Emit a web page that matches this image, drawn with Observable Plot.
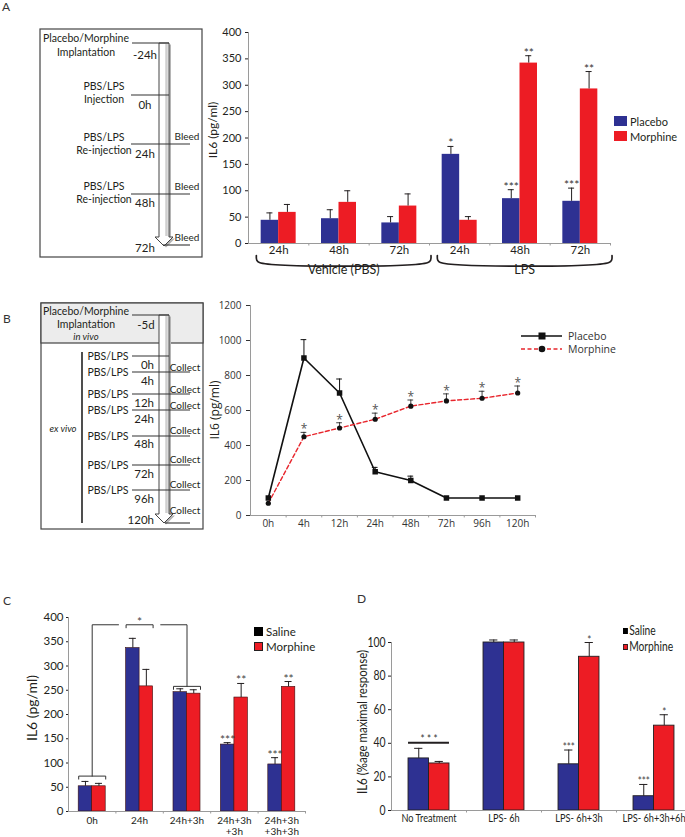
<!DOCTYPE html>
<html>
<head>
<meta charset="utf-8">
<script src="https://cdn.jsdelivr.net/npm/d3@7"></script>
<script src="https://cdn.jsdelivr.net/npm/@observablehq/plot@0.6"></script>
<style>
  html, body { margin: 0; padding: 0; background: #fff; overflow: hidden; }
  #fig { position: relative; width: 685px; height: 837px; overflow: hidden; background: #fff; color: #231f20; font-family: Lato, sans-serif; }
  .letter { position: absolute; font-size: 12px; line-height: 1; color: #333; }
  .ylab { position: absolute; white-space: nowrap; line-height: 1; transform: translate(-50%, -50%) rotate(-90deg); }
  .legend-row { position: absolute; white-space: nowrap; line-height: 1; display: flex; align-items: center; transform-origin: left center; }
</style>
</head>
<body>
<div id="fig"></div>
<script>
// ================= DATA =================
// Panel A
const aGroups = ["24h", "48h", "72h", "24h", "48h", "72h"];
const aTreatments = ["Vehicle (PBS)", "LPS"];
const aTreatmentSpans = [[0, 3], [3, 6]];
const aSeries = ["Placebo", "Morphine"];
const aPlacebo = [44, 47, 39, 169, 85, 80];
const aPlaceboSem = [14, 17, 12, 15, 17, 25];
const aMorphine = [59, 78, 71, 44, 342, 293];
const aMorphineSem = [15, 22, 23, 7, 14, 33];
const aPlaceboStars = ["", "", "", "*", "***", "***"];
const aMorphineStars = ["", "", "", "", "**", "**"];
const aYTicks = [0, 50, 100, 150, 200, 250, 300, 350, 400];
const aDiagTimes = ["-24h", "0h", "24h", "48h", "72h"];
const aDiagEvents = [["Placebo/Morphine", "Implantation"], ["PBS/LPS", "Injection"], ["PBS/LPS", "Re-injection"], ["PBS/LPS", "Re-injection"], []];
const aDiagBleed = ["", "", "Bleed", "Bleed", "Bleed"];

// Panel B
const bTimes = ["0h", "4h", "12h", "24h", "48h", "72h", "96h", "120h"];
const bSeries = ["Placebo", "Morphine"];
const bPlacebo = [100, 900, 700, 250, 200, 100, 100, 100];
const bPlaceboSem = [0, 105, 80, 25, 25, 0, 0, 0];
const bMorphine = [70, 450, 500, 550, 625, 655, 670, 700];
const bMorphineSem = [0, 25, 30, 35, 35, 40, 40, 40];
const bMorphineStars = ["", "*", "*", "*", "*", "*", "*", "*"];
const bYTicks = [0, 200, 400, 600, 800, 1000, 1200];
const bDiagTreat = ["PBS/LPS", "PBS/LPS", "PBS/LPS", "PBS/LPS", "PBS/LPS", "PBS/LPS", "PBS/LPS", ""];
const bDiagCollect = ["", "Collect", "Collect", "Collect", "Collect", "Collect", "Collect", "Collect"];

// Panel C
const cGroups = ["0h", "24h", "24h+3h", "24h+3h\n+3h", "24h+3h\n+3h+3h"];
const cSeries = ["Saline", "Morphine"];
const cSaline = [52, 337, 246, 138, 97];
const cSalineSem = [10, 20, 7, 4, 14];
const cMorphine = [52, 258, 243, 235, 257];
const cMorphineSem = [6, 35, 8, 29, 11];
const cSalineStars = ["", "", "", "***", "***"];
const cMorphineStars = ["", "", "", "**", "**"];
const cYTicks = [0, 50, 100, 150, 200, 250, 300, 350, 400];
const cBracketGroups = [0, 1, 2];        // compared groups: 0h vs 24h+3h, via 24h
const cBracketLevels = [73, 385, 258];   // bracket heights (pg/ml)
const cBracketLabel = "*";

// Panel D
const dGroups = ["No Treatment", "LPS- 6h", "LPS- 6h+3h", "LPS- 6h+3h+6h"];
const dSeries = ["Saline", "Morphine"];
const dSaline = [31, 100, 27.5, 8.5];
const dSalineSem = [6, 1.5, 8.5, 7];
const dMorphine = [28, 100, 91.5, 50.5];
const dMorphineSem = [1.2, 1.5, 8.5, 6.5];
const dSalineStars = ["", "", "***", "***"];
const dMorphineStars = ["", "", "*", "*"];
const dYTicks = [0, 20, 40, 60, 80, 100];
const dBracketLevel = 40.4;
const dBracketLabel = "* * *";

// ================= STYLE =================
const BLUE = "#2e3192", RED = "#ed1c24", INK = "#231f20", AXIS = "#9a9a9a";
const LATO = "Lato, sans-serif";
const OPEN = "'Open Sans', sans-serif";

const fig = document.getElementById("fig");
function place(el, left, top) {
  el.style.position = "absolute";
  el.style.left = left + "px";
  el.style.top = top + "px";
  fig.append(el);
  return el;
}
function letter(t, left, top) {
  const d = document.createElement("div");
  d.className = "letter"; d.textContent = t;
  place(d, left, top);
}
function yLabel(t, cx, cy, size, family, extra) {
  const d = document.createElement("div");
  d.className = "ylab"; d.textContent = t;
  d.style.fontSize = size + "px"; d.style.fontFamily = family;
  if (extra) d.style.transform = "translate(-50%, -50%) rotate(-90deg) " + extra;
  place(d, cx, cy);
}
function legend(items, o) {
  items.forEach((it, k) => {
    const row = document.createElement("div");
    row.className = "legend-row";
    row.style.height = o.sh + "px";
    row.style.fontSize = o.size + "px";
    row.style.fontFamily = o.family;
    if (o.squeeze) row.style.transform = `scaleX(${o.squeeze})`;
    const sw = document.createElement("span");
    sw.style.cssText = `display:inline-block;width:${o.sw}px;height:${o.sh}px;background:${it.color};box-sizing:border-box;margin-right:${o.gap}px;` + (it.border ? `border:1px solid ${INK};` : "");
    row.append(sw, document.createTextNode(it.label));
    place(row, o.left, o.top + k * o.step);
  });
}
function makeBars(groups, series, values, sems, stars, barW) {
  const out = [];
  groups.forEach((g, i) => {
    series.forEach((s, j) => {
      const x1 = i + 0.5 - barW * series.length / 2 + j * barW;
      out.push({group: g, gi: i, series: s, x1, x2: x1 + barW, xc: x1 + barW / 2,
        value: values[j][i], sem: sems[j][i], top: values[j][i] + sems[j][i], star: stars[j][i]});
    });
  });
  return out;
}
function errorMarks(bars, cap, stroke, width) {
  const e = bars.filter(d => d.sem > 0);
  return [
    Plot.ruleX(e, {x: "xc", y1: "value", y2: "top", stroke, strokeWidth: width}),
    Plot.ruleY(e, {x1: d => d.xc - cap, x2: d => d.xc + cap, y: "top", stroke, strokeWidth: width})
  ];
}
function positionSvg(svg, left, top) {
  svg.style.position = "absolute";
  svg.style.left = left + "px";
  svg.style.top = top + "px";
  svg.style.maxWidth = "none";
  svg.style.overflow = "visible";
  fig.append(svg);
}
// horizontally condense every text of an svg (the reference uses a condensed face)
function condense(svg, factor) {
  svg.querySelectorAll("text").forEach(t => {
    const spans = t.querySelectorAll("tspan");
    (spans.length ? [...spans] : [t]).forEach(el => {
      const len = el.getComputedTextLength();
      if (len > 0) {
        el.setAttribute("textLength", (len * factor).toFixed(2));
        el.setAttribute("lengthAdjust", "spacingAndGlyphs");
      }
    });
  });
}

// ================= PANEL A: chart =================
{
  const BAR = 0.29, CAP = 0.05, U = 400 / 211; // data units per pixel
  const bars = makeBars(aGroups, aSeries, [aPlacebo, aMorphine], [aPlaceboSem, aMorphineSem], [aPlaceboStars, aMorphineStars], BAR);
  const braces = aTreatmentSpans.flatMap(([s, e], k) => {
    const x0 = s + 0.13, x1 = e + 0.025, t = -12 * U, b = -19 * U;
    return [[x0, t], [x0 + 0.006, b + 2.5 * U], [x0 + 0.05, b], [x1 - 0.05, b], [x1 - 0.006, b + 2.5 * U], [x1, t]]
      .map(([x, y]) => ({k, x, y}));
  });
  const svg = Plot.plot({
    width: 415, height: 270, marginLeft: 48, marginRight: 5, marginTop: 12, marginBottom: 47,
    style: {fontFamily: LATO, fontSize: "11px", color: INK, background: "transparent"},
    x: {domain: [0, aGroups.length], axis: null},
    y: {domain: [0, 400], ticks: aYTicks, tickSize: 3, tickPadding: 4, label: null},
    color: {domain: aSeries, range: [BLUE, RED]},
    marks: [
      Plot.rectY(bars, {x1: "x1", x2: "x2", y1: 0, y2: "value", fill: "series"}),
      ...errorMarks(bars, CAP, INK, 1),
      Plot.text(bars.filter(d => d.star), {x: "xc", y: "top", text: "star", lineAnchor: "bottom", dy: 1, fontSize: 12, fill: "#333"}),
      Plot.ruleY([0], {stroke: AXIS}),
      Plot.ruleX([0], {stroke: AXIS}),
      Plot.ruleX(d3.range(1, aGroups.length + 1), {x: d => d, y1: 0, y2: -2.5 * U, stroke: AXIS}),
      Plot.text(aGroups, {x: (d, i) => i + 0.5, frameAnchor: "bottom", dy: 10.5, text: d => d, fontSize: 11.5}),
      Plot.line(braces, {x: "x", y: "y", z: "k", curve: "catmull-rom", stroke: INK, strokeWidth: 1.7}),
      Plot.text(aTreatments, {x: (d, i) => (aTreatmentSpans[i][0] + 0.13 + aTreatmentSpans[i][1] + 0.025) / 2, frameAnchor: "bottom", dy: 30, text: d => d, fontSize: 12.5})
    ]
  });
  positionSvg(svg, 200, 20);
  yLabel("IL6 (pg/ml)", 213, 130, 12, LATO);
  legend(aSeries.map((s, i) => ({label: s, color: [BLUE, RED][i]})), {left: 614, top: 116, step: 15, sw: 13, sh: 10, gap: 3, size: 11, family: LATO});
}

// ================= PANEL B: chart =================
{
  const CAP = 0.08, U = 1200 / 215;
  const rows = bTimes.map((t, i) => ({time: t, xi: i + 0.5,
    placebo: bPlacebo[i], pTop: bPlacebo[i] + bPlaceboSem[i], pSem: bPlaceboSem[i],
    morphine: bMorphine[i], mTop: bMorphine[i] + bMorphineSem[i], mSem: bMorphineSem[i], star: bMorphineStars[i]}));
  const pe = rows.filter(d => d.pSem > 0), me = rows.filter(d => d.mSem > 0);
  const svg = Plot.plot({
    width: 340, height: 250, marginLeft: 50, marginRight: 5, marginTop: 10, marginBottom: 30,
    style: {fontFamily: OPEN, fontSize: "10px", color: "#333", background: "transparent"},
    x: {domain: [0, bTimes.length], axis: null},
    y: {domain: [0, 1200], ticks: bYTicks, tickFormat: d => String(d), tickSize: 4, tickPadding: 5, label: null},
    marks: [
      Plot.ruleY([0], {stroke: AXIS}),
      Plot.ruleX([0], {stroke: AXIS}),
      Plot.ruleX(d3.range(1, bTimes.length + 1), {x: d => d, y1: 0, y2: -2.5 * U, stroke: AXIS}),
      Plot.ruleX(pe, {x: "xi", y1: "placebo", y2: "pTop", stroke: "#111", strokeWidth: 1}),
      Plot.ruleY(pe, {x1: d => d.xi - CAP, x2: d => d.xi + CAP, y: "pTop", stroke: "#111", strokeWidth: 1}),
      Plot.ruleX(me, {x: "xi", y1: "morphine", y2: "mTop", stroke: "#111", strokeWidth: 0.8}),
      Plot.ruleY(me, {x1: d => d.xi - CAP, x2: d => d.xi + CAP, y: "mTop", stroke: "#111", strokeWidth: 0.8}),
      Plot.line(rows, {x: "xi", y: "placebo", stroke: "#111", strokeWidth: 1.6}),
      Plot.line(rows, {x: "xi", y: "morphine", stroke: "#e8262d", strokeWidth: 1.4, strokeDasharray: "4,2.5"}),
      Plot.dot(rows, {x: "xi", y: "placebo", symbol: "square", r: 3.1, fill: "#111"}),
      Plot.dot(rows, {x: "xi", y: "morphine", r: 2.6, fill: "#111"}),
      Plot.text(rows.filter(d => d.star), {x: "xi", y: "mTop", text: "star", lineAnchor: "bottom", dy: 1, fontSize: 12, fill: "#555"}),
      Plot.text(bTimes, {x: (d, i) => i + 0.5, frameAnchor: "bottom", dy: 11.5, text: d => d, fontSize: 10})
    ]
  });
  positionSvg(svg, 200, 295);
  yLabel("IL6 (pg/ml)", 215, 410, 12, OPEN);
  const lg = d3.create("svg").attr("width", 50).attr("height", 30);
  const ys = [8, 21];
  bSeries.forEach((s, i) => {
    lg.append("line").attr("x1", 6).attr("x2", 47).attr("y1", ys[i]).attr("y2", ys[i])
      .attr("stroke", i ? "#e8262d" : "#111").attr("stroke-width", i ? 1.4 : 1.6).attr("stroke-dasharray", i ? "4,2.5" : null);
    if (i) lg.append("circle").attr("cx", 27).attr("cy", ys[i]).attr("r", 3.3).attr("fill", "#111");
    else lg.append("rect").attr("x", 23.5).attr("y", ys[i] - 3.5).attr("width", 7).attr("height", 7).attr("fill", "#111");
    const t = document.createElement("div");
    t.className = "legend-row"; t.style.height = "12px"; t.style.fontSize = "10.5px"; t.style.fontFamily = OPEN; t.style.color = "#333";
    t.textContent = s;
    place(t, 568, 328 + ys[i] - 6);
  });
  place(lg.node(), 515, 328);
}

// ================= PANEL C: chart =================
{
  const BAR = 0.285, CAP = 0.074, U = 400 / 193.5;
  const bars = makeBars(cGroups, cSeries, [cSaline, cMorphine], [cSalineSem, cMorphineSem], [cSalineStars, cMorphineStars], BAR);
  const [g0, g1, g2] = cBracketGroups, [L0, L1, L2] = cBracketLevels;
  const tick = 3 * U, gap = 0.16;
  const seg = [];
  const push = (k, pts) => pts.forEach(([x, y]) => seg.push({k, x, y}));
  [[g0, L0], [g1, L1], [g2, L2]].forEach(([g, L], k) =>
    push("b" + k, [[g + 0.5 - BAR, L - tick], [g + 0.5 - BAR, L], [g + 0.5 + BAR, L], [g + 0.5 + BAR, L - tick]]));
  push("l", [[g0 + 0.5, L0], [g0 + 0.5, L1], [g1 + 0.5 - BAR - gap, L1]]);
  push("r", [[g1 + 0.5 + BAR + gap, L1], [g2 + 0.5, L1], [g2 + 0.5, L2]]);
  const svg = Plot.plot({
    width: 310, height: 237, marginLeft: 68, marginRight: 5, marginTop: 17, marginBottom: 26,
    style: {fontFamily: LATO, fontSize: "11.5px", color: INK, background: "transparent"},
    x: {domain: [0, cGroups.length], axis: null},
    y: {domain: [0, 400], ticks: cYTicks, tickSize: 2, tickPadding: 3, label: null},
    color: {domain: cSeries, range: [BLUE, RED]},
    marks: [
      Plot.rectY(bars, {x1: "x1", x2: "x2", y1: 0, y2: "value", fill: "series", stroke: "#3a1010", strokeWidth: 0.6}),
      ...errorMarks(bars, CAP, INK, 1),
      Plot.text(bars.filter(d => d.star), {x: "xc", y: "top", text: "star", lineAnchor: "bottom", dy: 1, fontSize: 12, fill: "#444"}),
      Plot.line(seg, {x: "x", y: "y", z: "k", stroke: "#333", strokeWidth: 1}),
      Plot.text([cBracketLabel], {x: g1 + 0.5, y: L1, text: d => d, lineAnchor: "bottom", dy: 1, fontSize: 12, fill: "#444"}),
      Plot.ruleY([0], {stroke: AXIS}),
      Plot.ruleX([0], {stroke: AXIS}),
      Plot.ruleX(d3.range(1, cGroups.length + 1), {x: d => d, y1: 0, y2: -2.5 * U, stroke: AXIS}),
      Plot.text(cGroups, {x: (d, i) => i + 0.5, frameAnchor: "bottom", lineAnchor: "top", lineHeight: 1.1, dy: 5, text: d => d, fontSize: 10})
    ]
  });
  positionSvg(svg, 0, 600);
  yLabel("IL6 (pg/ml)", 32, 708, 14, LATO);
  legend([{label: cSeries[0], color: "#000"}, {label: cSeries[1], color: RED, border: true}],
    {left: 254, top: 627, step: 15, sw: 9, sh: 9, gap: 3, size: 11.5, family: LATO});
}

// ================= PANEL D: chart =================
{
  const BAR = 0.273, CAP = 0.055;
  const bars = makeBars(dGroups, dSeries, [dSaline, dMorphine], [dSalineSem, dMorphineSem], [dSalineStars, dMorphineStars], BAR);
  const U = 100 / 167.7;
  const svg = Plot.plot({
    width: 351, height: 235, marginLeft: 51, marginRight: 0, marginTop: 42, marginBottom: 25,
    style: {fontFamily: LATO, fontSize: "13px", color: INK, background: "transparent"},
    x: {domain: [0, dGroups.length], axis: null},
    y: {domain: [0, 100], ticks: dYTicks, tickSize: 3, tickPadding: 3, label: null},
    color: {domain: dSeries, range: [BLUE, RED]},
    marks: [
      Plot.rectY(bars, {x1: "x1", x2: "x2", y1: 0, y2: "value", fill: "series", stroke: INK, strokeWidth: 0.9}),
      ...errorMarks(bars, CAP, INK, 1),
      Plot.text(bars.filter(d => d.star), {x: "xc", y: "top", text: "star", lineAnchor: "bottom", dy: 1, fontSize: 12, fill: "#444"}),
      Plot.ruleY([dBracketLevel], {x1: 0.5 - BAR, x2: 0.5 + BAR, stroke: INK, strokeWidth: 2}),
      Plot.text([dBracketLabel], {x: 0.5, y: dBracketLevel, text: d => d, lineAnchor: "bottom", dy: 0, fontSize: 12, fill: "#333"}),
      Plot.ruleY([0], {stroke: AXIS}),
      Plot.ruleX([0], {stroke: AXIS}),
      Plot.ruleX(d3.range(1, dGroups.length + 1), {x: d => d, y1: 0, y2: -2.5 * U, stroke: AXIS}),
      Plot.text(dGroups, {x: (d, i) => i + 0.5, frameAnchor: "bottom", dy: 11, text: d => d, fontSize: 11.5})
    ]
  });
  positionSvg(svg, 340, 600);
  condense(svg, 0.8);
  yLabel("IL6 (%age maximal response)", 363, 722, 13.5, LATO, "scaleX(0.85)");
  legend([{label: dSeries[0], color: "#000"}, {label: dSeries[1], color: RED, border: true}],
    {left: 623, top: 628, step: 16, sw: 6, sh: 6, gap: 1.5, size: 12.5, family: LATO, squeeze: 0.82});
}

// ================= DIAGRAMS (schematics) =================
{
  const svg = d3.create("svg").attr("width", 210).attr("height", 540)
    .attr("font-family", LATO).attr("fill", INK);
  const text = (t, x, y, size, anchor = "middle", italic = false) =>
    svg.append("text").attr("x", x).attr("y", y).attr("font-size", size).attr("text-anchor", anchor)
      .attr("dominant-baseline", "central").attr("font-style", italic ? "italic" : null).attr("fill", INK).text(t);
  const line = (x1, y1, x2, y2, w = 1, c = "#333") =>
    svg.append("line").attr("x1", x1).attr("y1", y1).attr("x2", x2).attr("y2", y2).attr("stroke", c).attr("stroke-width", w);
  const arrow = (cx, top, tip) => {
    const sw = 5, hw = 9, hh = 9;
    const pts = [[cx - sw, top], [cx + sw, top], [cx + sw, tip - hh], [cx + hw, tip - hh], [cx, tip], [cx - hw, tip - hh], [cx - sw, tip - hh]];
    const p = pts.map(d => d.join(",")).join(" ");
    svg.append("polygon").attr("points", pts.map(([x, y]) => [x + 2, y + 1.5].join(",")).join(" ")).attr("fill", "#b5b5b5");
    svg.append("polygon").attr("points", p).attr("fill", "#fff").attr("stroke", "#444").attr("stroke-width", 1);
    svg.append("line").attr("x1", cx + 2.5).attr("x2", cx + 2.5).attr("y1", top + 1).attr("y2", tip - hh - 1).attr("stroke", "#cfcfcf").attr("stroke-width", 2.5);
  };

  // --- Panel A schematic ---
  const LA = {box: [40, 29, 202, 257], arrowX: 164, top: 43, tip: 246,
    lineY: [43, 95, 144, 194, 245], lineX1: [132, 131, 131, 131, 163], lineX2: [169, 169, 190, 190, 190],
    evX: [86, 104, 104, 104, 0], evDy: [[-5, 9], [-9, 4], [-7, 6], [-8, 5], []],
    timeX: 145, timeDy: [11, 9, 9, 8, 2], bleedX: 187, bleedDy: -8};
  svg.append("rect").attr("x", LA.box[0]).attr("y", LA.box[1]).attr("width", LA.box[2] - LA.box[0]).attr("height", LA.box[3] - LA.box[1])
    .attr("fill", "#fff").attr("stroke", "#444").attr("stroke-width", 1.2);
  arrow(LA.arrowX, LA.top, LA.tip);
  aDiagTimes.forEach((t, i) => {
    const y = LA.lineY[i];
    line(LA.lineX1[i], y, LA.lineX2[i], y, 1.1);
    aDiagEvents[i].forEach((s, j) => text(s, LA.evX[i], y + LA.evDy[i][j], 10.5));
    text(t, LA.timeX, y + LA.timeDy[i], 11.5);
    if (aDiagBleed[i]) text(aDiagBleed[i], LA.bleedX, y + LA.bleedDy, 10);
  });

  // --- Panel B schematic ---
  const LB = {box: [41, 303, 203, 529], header: 343, arrowX: 164, top: 315, tip: 523,
    implX: 86, implY: [311, 324], inVivoY: 336, dayX: 146, dayY: 324,
    exX: 82, exY: [352, 523], exLabel: [63, 428],
    lineY: [356, 372, 394, 410, 436, 465, 490, 523], lineX1: [132, 132, 132, 132, 132, 132, 132, 165], lineX2: [169, 190, 190, 190, 190, 190, 190, 190],
    treatX: 108, timeRight: 154, timeDy: [8, 8, 8, 8, 7, 8, 8, -4], collectX: 185, collectDy: [0, -5, -5, -5, -6, -6, -6, -13]};
  svg.append("rect").attr("x", LB.box[0]).attr("y", LB.box[1]).attr("width", LB.box[2] - LB.box[0]).attr("height", LB.box[3] - LB.box[1])
    .attr("fill", "#fff").attr("stroke", "#444").attr("stroke-width", 1.2);
  svg.append("rect").attr("x", LB.box[0]).attr("y", LB.box[1]).attr("width", LB.box[2] - LB.box[0]).attr("height", LB.header - LB.box[1])
    .attr("fill", "#ececec").attr("stroke", "#444").attr("stroke-width", 1.2);
  arrow(LB.arrowX, LB.top, LB.tip);
  line(132, LB.top, 169, LB.top, 1.1);
  text(aDiagEvents[0][0], LB.implX, LB.implY[0], 10.5);
  text(aDiagEvents[0][1], LB.implX, LB.implY[1], 10.5);
  text("in vivo", LB.implX, LB.inVivoY, 9.5, "middle", true);
  text("-5d", LB.dayX, LB.dayY, 11.5);
  line(LB.exX, LB.exY[0], LB.exX, LB.exY[1], 1.6, "#222");
  text("ex vivo", LB.exLabel[0], LB.exLabel[1], 9.5, "middle", true);
  bTimes.forEach((t, i) => {
    const y = LB.lineY[i];
    line(LB.lineX1[i], y, LB.lineX2[i], y, 1.1);
    if (bDiagTreat[i]) text(bDiagTreat[i], LB.treatX, y, 10.5);
    text(t, LB.timeRight, y + LB.timeDy[i], 11.5, "end");
    if (bDiagCollect[i]) text(bDiagCollect[i], LB.collectX, y + LB.collectDy[i], 10);
  });
  place(svg.node(), 0, 0);
  fig.prepend(svg.node());
}

// ================= Panel letters =================
letter("A", 2, 1);
letter("B", 3, 313);
letter("C", 3, 595);
letter("D", 357, 593);
</script>
</body>
</html>
